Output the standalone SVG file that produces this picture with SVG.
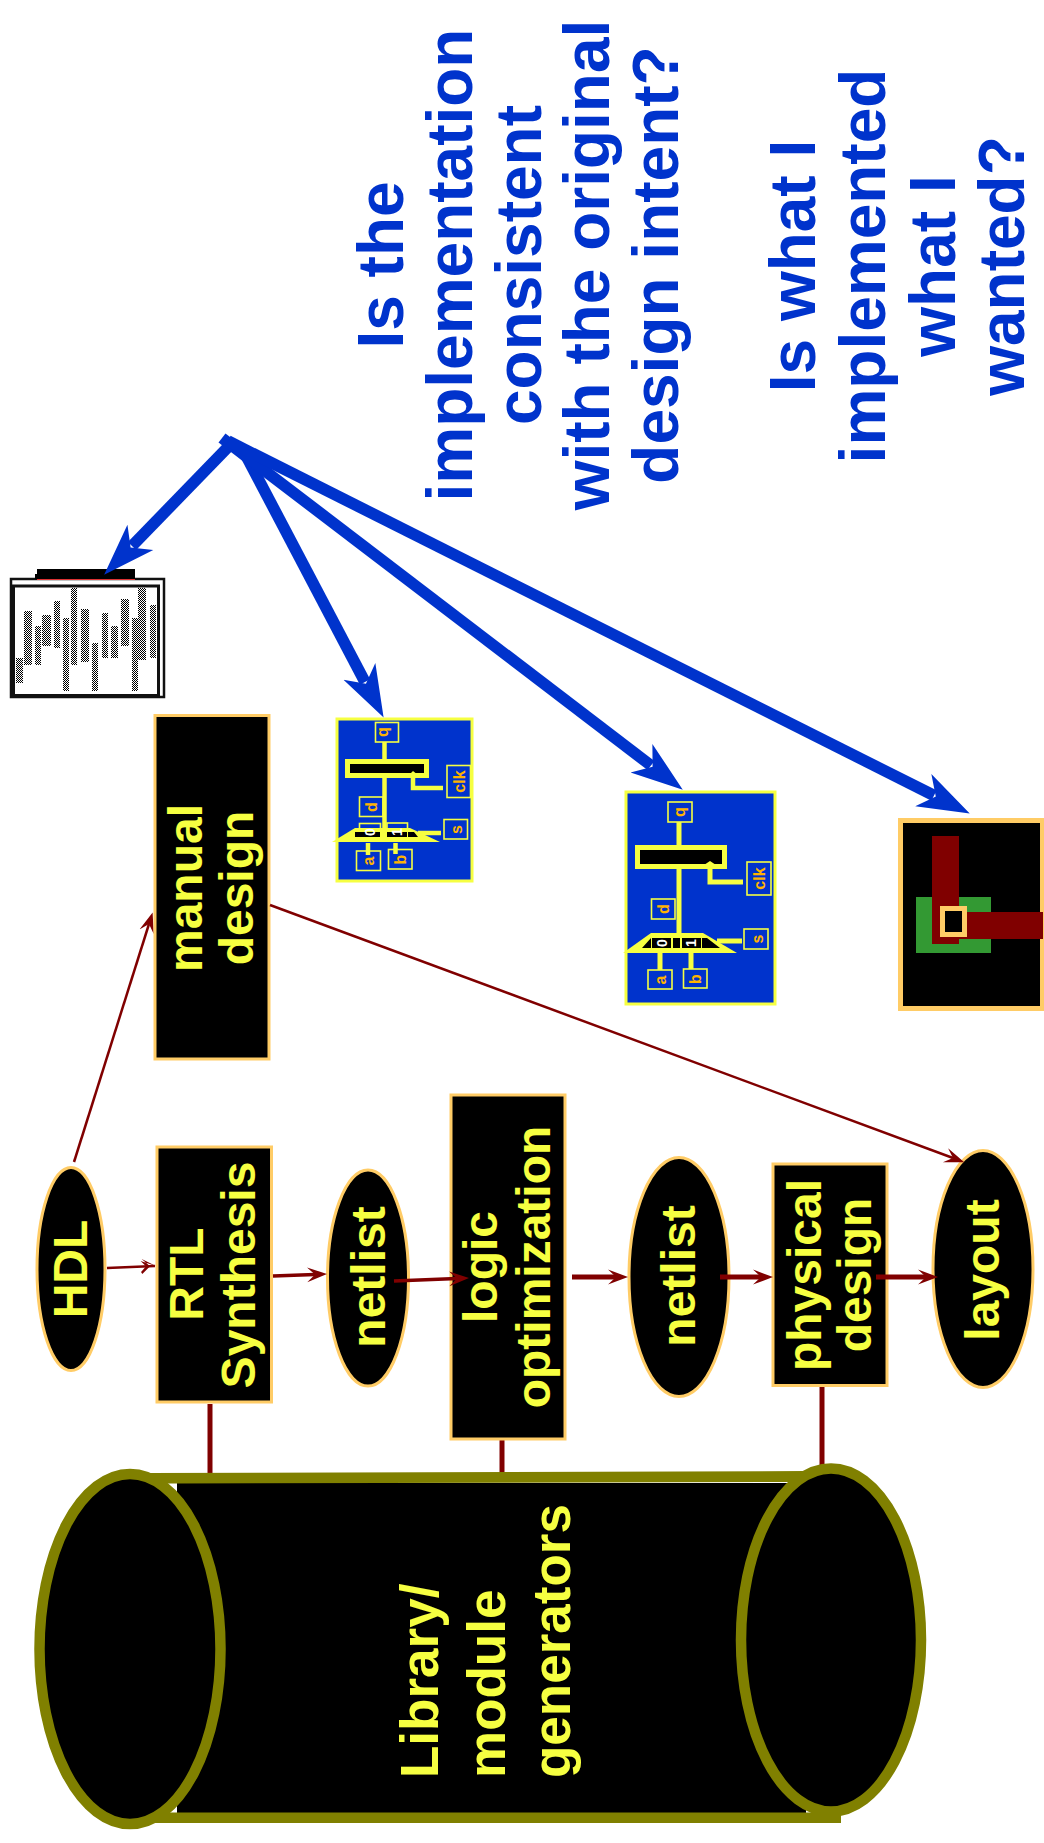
<svg xmlns="http://www.w3.org/2000/svg" width="1044" height="1843" viewBox="0 0 1044 1843">
<style>
text{font-family:"Liberation Sans",Arial,sans-serif;font-weight:bold}
.q{fill:#0033CC;font-size:64px;text-anchor:middle}
.n{fill:#F6FF41;font-size:48px;text-anchor:middle}
.l{fill:#F6FF41;font-size:53px;text-anchor:start}
.box{fill:#000;stroke:#FFCC66;stroke-width:3}
.el{fill:#000;stroke:#FFCC66;stroke-width:3}
.thin{stroke:#800000;stroke-width:2.5;fill:none}
.mid{stroke:#800000;stroke-width:3.5;fill:none}
.thick{stroke:#800000;stroke-width:5;fill:none}
.bl{stroke:#0033CC;stroke-width:11.5;fill:none}
.ol{fill:#000;stroke:#808000;stroke-width:10.5}
.pin{fill:none;stroke:#F6FF41;stroke-width:1.6}
.w{fill:none;stroke:#F6FF41;stroke-width:4.5}
.t{fill:#FFB300;font-size:16px;text-anchor:middle}
.z{fill:#fff;font-size:14px;text-anchor:middle}
.b{fill:url(#chk)}
</style>
<defs>
<pattern id="chk" width="2" height="2" patternUnits="userSpaceOnUse"><rect width="2" height="2" fill="#fff"/><rect width="1" height="1" fill="#000"/><rect x="1" y="1" width="1" height="1" fill="#000"/></pattern>
<marker id="ab" markerUnits="userSpaceOnUse" markerWidth="60" markerHeight="48" refX="12" refY="24" orient="auto"><path d="M52 24L0 6L14 24L0 42Z" fill="#0033CC"/></marker>
<marker id="ar" markerUnits="userSpaceOnUse" markerWidth="24" markerHeight="20" refX="8" refY="10" orient="auto"><path d="M20 10L0 2.500L8 10L0 17.500Z" fill="#800000"/></marker>
<marker id="as" markerUnits="userSpaceOnUse" markerWidth="24" markerHeight="20" refX="15" refY="10" orient="auto"><path d="M16 10L2 2.500L10 10L2 17.500L0.800 15.500L6 10L0.800 4.500Z" fill="#800000"/></marker>
</defs>
<rect width="1044" height="1843" fill="#fff"/>

<g id="q1">
<text class="q" transform="translate(403,265) rotate(-90)">Is the</text>
<text class="q" transform="translate(472,265) rotate(-90)">implementation</text>
<text class="q" transform="translate(541,265) rotate(-90)">consistent</text>
<text class="q" transform="translate(609,265) rotate(-90)">with the original</text>
<text class="q" transform="translate(678,265) rotate(-90)">design intent?</text>
</g>
<g id="q2">
<text class="q" transform="translate(815,266) rotate(-90)">Is what I</text>
<text class="q" transform="translate(885,266) rotate(-90)">implemented</text>
<text class="q" transform="translate(955,266) rotate(-90)">what I</text>
<text class="q" transform="translate(1024,266) rotate(-90)">wanted?</text>
</g>

<g id="connectors">
<path class="thin" d="M74 1162L149 924" marker-end="url(#ar)"/>
<path class="thick" d="M210 1404V1475"/>
<path class="thick" d="M502 1440V1475"/>
<path class="thick" d="M822 1387V1465"/>
</g>

<g id="waveform">
<rect x="11" y="579" width="153" height="118" fill="#fff" stroke="#111" stroke-width="2.500"/>
<rect x="13.500" y="586" width="145" height="109.500" fill="#fff" stroke="#111" stroke-width="3"/>
<path d="M37 569H135V579H35V574H37Z" fill="#000"/>
<path d="M37 579.500H135" stroke="#d33" stroke-width="1"/>
<rect class="b" x="16" y="658" width="7" height="25"/>
<rect class="b" x="24" y="611" width="8" height="54"/>
<rect class="b" x="35" y="626" width="6" height="39"/>
<rect class="b" x="42" y="615" width="9" height="31"/>
<rect class="b" x="54" y="601" width="6" height="47"/>
<rect class="b" x="63" y="618" width="6" height="73"/>
<rect class="b" x="71" y="588" width="6" height="77"/>
<rect class="b" x="81" y="609" width="8" height="53"/>
<rect class="b" x="92" y="643" width="6" height="48"/>
<rect class="b" x="102" y="613" width="6" height="45"/>
<rect class="b" x="111" y="626" width="7" height="32"/>
<rect class="b" x="121" y="599" width="8" height="47"/>
<rect class="b" x="132" y="618" width="6" height="73"/>
<rect class="b" x="138" y="588" width="8" height="72"/>
<rect class="b" x="150" y="605" width="6" height="53"/>
</g>

<g id="sch1">
<rect x="337" y="719" width="135" height="162" fill="#0033CC" stroke="#F6FF41" stroke-width="3"/>
<rect class="pin" x="375.500" y="722.500" width="23" height="19.500"/>
<text class="t" transform="translate(388,732) rotate(-90)">q</text>
<path class="w" d="M384.500 742V760M384.500 778V830"/>
<rect x="347.500" y="761.500" width="79" height="14" fill="#000" stroke="#F6FF41" stroke-width="5"/>
<rect class="pin" x="447" y="765.500" width="23.500" height="32"/>
<text class="t" transform="translate(465,781.500) rotate(-90)">clk</text>
<path class="w" d="M413 775V788H443"/>
<path d="M409 775L413 771L418 775Z" fill="#F6FF41"/>
<rect class="pin" x="359.500" y="797" width="23.500" height="19.500"/>
<text class="t" transform="translate(377,807) rotate(-90)">d</text>
<rect class="pin" x="359.500" y="823.500" width="21" height="14"/>
<rect class="pin" x="387" y="823" width="20.500" height="14"/>
<path d="M332 842L355 828H410L440 842Z" fill="#F6FF41"/>
<path d="M355 832H380V837H355ZM387 832H407V837H387ZM408 832H414L418 837H408Z" fill="#000"/>
<text class="z" transform="translate(375,832) rotate(-90)">0</text>
<text class="z" transform="translate(402,832) rotate(-90)">1</text>
<rect class="pin" x="444" y="819.500" width="23.500" height="19.500"/>
<text class="t" transform="translate(462,829.500) rotate(-90)">s</text>
<path class="w" d="M418 833H441"/>
<rect class="pin" x="356.500" y="851" width="24" height="19.500"/>
<text class="t" transform="translate(374,861) rotate(-90)">a</text>
<rect class="pin" x="388.500" y="849.500" width="23.500" height="19.500"/>
<text class="t" transform="translate(406,859.500) rotate(-90)">b</text>
<path class="w" d="M368 843V855M395.500 843V854"/>
</g>

<g id="sch2">
<rect x="626" y="792" width="149" height="212" fill="#0033CC" stroke="#F6FF41" stroke-width="3"/>
<rect class="pin" x="668" y="802" width="24" height="20"/>
<text class="t" transform="translate(685,812) rotate(-90)">q</text>
<path class="w" d="M679 822V846M679 868V935" style="stroke-width:5"/>
<rect x="637.500" y="847.500" width="87" height="19" fill="#000" stroke="#F6FF41" stroke-width="5"/>
<rect class="pin" x="747" y="862" width="24" height="33"/>
<text class="t" transform="translate(765,878.500) rotate(-90)">clk</text>
<path class="w" d="M710 866V882H743" style="stroke-width:5"/>
<path d="M704 865L710 861L716 865Z" fill="#F6FF41"/>
<rect class="pin" x="651.500" y="899" width="23.500" height="20"/>
<text class="t" transform="translate(669,909) rotate(-90)">d</text>
<path d="M623 953H737L703 933H651Z" fill="#F6FF41"/>
<path d="M642 948L651 938V948ZM652 938H671V948H652ZM673 938H680V948H673ZM682 938H701V948H682ZM702 938H707L720 948H702Z" fill="#000"/>
<text class="z" transform="translate(667,943) rotate(-90)">0</text>
<text class="z" transform="translate(696,943) rotate(-90)">1</text>
<rect class="pin" x="744" y="929" width="24" height="20"/>
<text class="t" transform="translate(763,939) rotate(-90)">s</text>
<path class="w" d="M717 941H742" style="stroke-width:5"/>
<rect class="pin" x="648" y="970" width="24" height="19"/>
<text class="t" transform="translate(666,980) rotate(-90)">a</text>
<rect class="pin" x="683.500" y="969" width="23.500" height="19"/>
<text class="t" transform="translate(701,979) rotate(-90)">b</text>
<path class="w" d="M660 953V970M691 953V969" style="stroke-width:5"/>
</g>

<g id="layout-cell">
<rect x="900.500" y="820.500" width="142" height="188" fill="#000" stroke="#FFCC66" stroke-width="5"/>
<rect x="916" y="897" width="75" height="56" fill="#339933"/>
<rect x="932" y="836" width="27" height="108" fill="#800000"/>
<rect x="959" y="912" width="84" height="27" fill="#800000"/>
<rect x="942.500" y="908.500" width="22" height="26" fill="#000" stroke="#FFCC66" stroke-width="5"/>
</g>

<g id="node-hdl"><ellipse class="el" cx="71" cy="1269" rx="34" ry="101.500"/><text class="n" transform="translate(87,1269) rotate(-90)">HDL</text></g>
<g id="node-rtl"><rect class="box" x="157" y="1147" width="114.500" height="255"/>
<text class="n" transform="translate(203,1274) rotate(-90)">RTL</text>
<text class="n" transform="translate(255,1275) rotate(-90)">Synthesis</text></g>
<g id="node-netlist1"><ellipse class="el" cx="368" cy="1278" rx="40.500" ry="108"/><text class="n" transform="translate(385,1277) rotate(-90)">netlist</text></g>
<g id="node-logic"><rect class="box" x="451" y="1095" width="114" height="344"/>
<text class="n" transform="translate(497,1267) rotate(-90)">logic</text>
<text class="n" transform="translate(550,1267) rotate(-90)">optimization</text></g>
<g id="node-netlist2"><ellipse class="el" cx="679" cy="1277" rx="50" ry="119.500"/><text class="n" transform="translate(695,1276) rotate(-90)">netlist</text></g>
<g id="node-physical"><rect class="box" x="773" y="1164" width="114" height="221.500"/>
<text class="n" transform="translate(821,1275) rotate(-90)">physical</text>
<text class="n" transform="translate(871,1275) rotate(-90)">design</text></g>
<g id="node-layout"><ellipse class="el" cx="983" cy="1269" rx="50" ry="118.500"/><text class="n" transform="translate(999,1270) rotate(-90)">layout</text></g>
<g id="node-manual"><rect class="box" x="155" y="715.500" width="114" height="343.500"/>
<text class="n" transform="translate(202,888) rotate(-90)">manual</text>
<text class="n" transform="translate(253,888) rotate(-90)">design</text></g>

<g id="connectors-2">
<path class="thin" d="M107 1268L155 1266" marker-end="url(#as)"/>
<path class="mid" d="M273 1276L315 1274.500" marker-end="url(#ar)"/>
<path class="mid" d="M394 1281L457 1278.500" marker-end="url(#ar)"/>
<path class="thick" d="M572 1277L616 1277" marker-end="url(#ar)"/>
<path class="thick" d="M720 1277L761 1277" marker-end="url(#ar)"/>
<path class="thick" d="M876 1277L926 1277" marker-end="url(#ar)"/>
<path class="thin" d="M270 905L953 1158" marker-end="url(#ar)"/>
<path class="bl" d="M230 445L132 546" marker-end="url(#ab)"/>
<path class="bl" d="M242 448L365 682" marker-end="url(#ab)"/>
<path class="bl" d="M222 438L651 765.500" marker-end="url(#ab)"/>
<path class="bl" d="M228 441L934 795.500" marker-end="url(#ab)"/>
</g>

<g id="node-library">
<rect x="177" y="1483" width="629" height="330" fill="#000"/>
<path d="M150 1473L806 1471V1482L177 1483.500H150Z" fill="#808000"/>
<path d="M150 1812.500H841V1823H150Z" fill="#808000"/>
<ellipse class="ol" cx="130" cy="1649" rx="90.500" ry="175"/>
<ellipse class="ol" cx="831" cy="1640" rx="90" ry="171.500"/>
<text class="l" transform="translate(438,1778) rotate(-90)">Library/</text>
<text class="l" transform="translate(505,1778) rotate(-90)">module</text>
<text class="l" transform="translate(570,1778) rotate(-90)">generators</text>
</g>
</svg>
